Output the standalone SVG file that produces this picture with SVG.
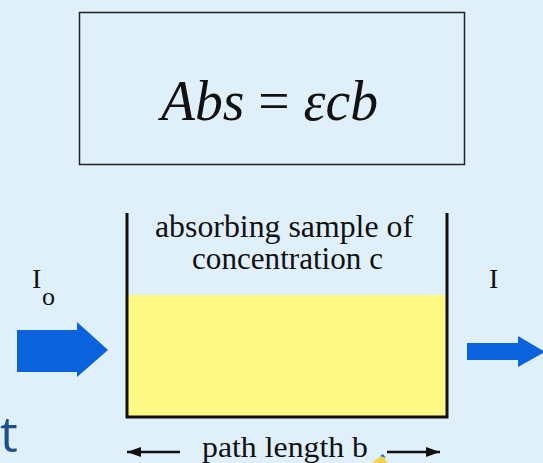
<svg xmlns="http://www.w3.org/2000/svg" width="543" height="463" viewBox="0 0 543 463">
  <defs>
    <style>
      .serif { font-family: "Liberation Serif", "Times New Roman", serif; fill: #111; }
      .wall { stroke: #111; stroke-width: 3; fill: none; }
      .beam { fill: #0a62dc; }
    </style>
    <marker id="ah" viewBox="0 0 14 10" refX="14" refY="5" markerWidth="14" markerHeight="10" markerUnits="userSpaceOnUse" orient="auto">
      <path d="M0,0 L14,5 L0,10 Z" fill="#111"/>
    </marker>
  </defs>
  <rect x="0" y="0" width="543" height="463" fill="#dff0fb"/>

  <g id="equation">
    <rect x="79.5" y="12.5" width="385" height="152" fill="none" stroke="#222" stroke-width="1.5"/>
    <text class="serif" x="161" y="120" font-size="57" textLength="217" lengthAdjust="spacingAndGlyphs"><tspan font-style="italic">Abs</tspan><tspan> = </tspan><tspan font-style="italic">εcb</tspan></text>
  </g>

  <g id="sample">
    <rect x="127" y="295" width="320" height="122" fill="#fef985"/>
    <path class="wall" d="M127,213 V417 H447 V213"/>
    <text class="serif" x="155" y="237" font-size="31" textLength="258" lengthAdjust="spacingAndGlyphs">absorbing sample of</text>
    <text class="serif" x="192" y="269" font-size="31" textLength="191" lengthAdjust="spacingAndGlyphs">concentration c</text>
  </g>

  <g id="incident">
    <text class="serif" x="32" y="288" font-size="28">I</text>
    <text class="serif" x="42" y="305" font-size="26">o</text>
    <path class="beam" d="M17,330 H77 V322 L108,350 L77,377 V372 H17 Z"/>
  </g>

  <g id="transmitted">
    <text class="serif" x="489" y="288" font-size="28">I</text>
    <path class="beam" d="M467,343 H518 V336 L545,352 L518,367 V360 H467 Z"/>
  </g>

  <g id="connectors">
    <line x1="180" y1="452" x2="127" y2="452" stroke="#111" stroke-width="2.5" marker-end="url(#ah)"/>
    <line x1="387" y1="452" x2="440" y2="452" stroke="#111" stroke-width="2.5" marker-end="url(#ah)"/>
  </g>

  <g id="pathlength">
    <text class="serif" x="202" y="457" font-size="30" textLength="166" lengthAdjust="spacingAndGlyphs">path length b</text>
  </g>

  <text x="0" y="452" font-family="'Open Sans', 'Noto Sans', sans-serif" font-size="50" fill="#1f4f86">t</text>
  <path d="M372,463 L382,455 L388,463 Z" fill="#f2d34a"/>
  <path d="M380,456 L383,454 L386,458 Z" fill="#3a6fc4"/>
</svg>
